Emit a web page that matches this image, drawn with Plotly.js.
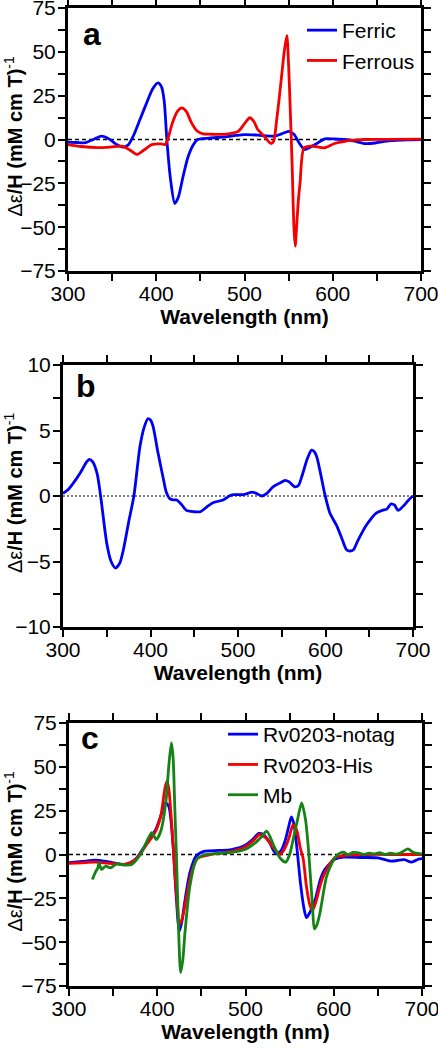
<!DOCTYPE html>
<html>
<head>
<meta charset="utf-8">
<script src="https://cdn.plot.ly/plotly-3.0.1.min.js"></script>
<style>html,body{margin:0;padding:0;background:#fff;}#chart{width:438px;height:1048px;}</style>
</head>
<body>
<div id="chart"></div>
<script>
// ---------- Panel a ----------
const ferricX = [300,310,320,330,338,346,354,362,368,374,382,390,396,402,406,409,412,416,421,425,430,436,442,447,460,478,490,500,515,534,542,550,556,562,568,574,580,591,602,614,625,636,648,659,672,685,700];
const ferricY = [-1.5,-1.7,-1.8,0.3,1.9,0.5,-2.5,-4.4,-3.2,2,12,22,29,32.3,30,22,0,-22,-36.5,-33,-22,-10,-3,0,0.8,1.5,2.3,2.8,2.5,1.9,3.2,4.6,3,-2,-5.7,-4.5,-2.9,0.4,0.3,0,-1,-2.3,-2,-1,-0.5,-0.2,0];
const ferrousX = [300,315,334,348,361,370,378,386,395,405,410,413,418,424,429,434,440,446,452,462,474,485,493,500,506,511,515,522,530,533,536.5,539,542,545,548,550,552,554,556,557.5,559,561,563,567.5,576,591,602,614,625,636,660,700];
const ferrousY = [-2.9,-4,-4.6,-4.3,-3.8,-6,-8.5,-6,-2.9,-2.5,-2.9,0,9,16,18,16,9.5,5,3.4,3,2.9,3.5,4.6,9,12.4,10,5.7,2,-2.3,-1,11.4,22,36,50,59.3,42,15,-15,-50,-60.8,-50,-35,-24.5,-4.7,-3.8,-4.7,-2.3,-1,-0.4,0,0.1,0.2];

// ---------- Panel b ----------
const bX = [300,306,312,320,327,330,334,339,343,350,355,360,365,369,375,381,388,393,397,400,403,408,415,418,422,426,430,436,441,449,457,465,472,483,490,495,506,511,516,521,527,533,540,548,554,558,565,569,573,579,584,587,590,595,599,605,613,619,624,628,632,637,647,658,665,670,675,679,683,690,695,700];
const bY = [0.2,0.5,1,1.8,2.6,2.8,2.6,1.7,0,-3.6,-5,-5.5,-5.1,-4.1,-2,0,3.8,5.3,5.9,5.8,5.3,3.5,1.2,0.3,-0.2,-0.3,-0.3,-0.7,-1.1,-1.2,-1.2,-0.8,-0.5,-0.3,0,0.1,0.1,0.2,0.3,0.2,0,0.2,0.7,1.0,1.2,1.1,0.7,0.8,1.5,2.8,3.5,3.4,3.0,1.5,0.2,-1.3,-2.3,-3.3,-4.1,-4.2,-4.1,-3.4,-2.2,-1.3,-1.1,-1.0,-0.6,-0.7,-1.1,-0.7,-0.3,0];

// ---------- Panel c ----------
const notagX = [300,315,330,345,364,375,387,398,404,409,413,418,421,425,428,431,437,444,454,470,484,499,508,515,520,526,531,535,540,545,549,552,555,559,562,566,569,573,579,585,590,601,611,630,650,665,680,688,697,700];
const notagY = [-4.7,-4,-3.2,-4.2,-5.7,-2.9,5.7,14,22,29.6,27.5,4.6,-20,-43.7,-38,-27.5,-10.4,-1,1.9,2.3,2.8,5.1,8.5,12,11.5,8,3,0.4,2,8,16,21.5,17,0,-15,-30,-36,-33,-25.6,-14,-8.5,-2.8,-1.5,-1.7,-1.9,-3.8,-2.9,-4.4,-2.5,-2.3];
const hisX = [300,315,330,345,364,375,387,398,404,408.8,411,413,416,418,420,423,425,428,431,439,446,461,484,500,510,516,523,530,539,544,549,554,558,562,565.5,569,573,576,580.6,585,590,601,615,640,670,700];
const hisY = [-5.1,-4.7,-4.4,-5,-5.5,-3,5,13,22,38,41.8,38,20,5,-11,-30,-40,-37,-30,-10,-2,0,1.8,4.5,8.5,11.4,9.5,5,0,3,9,17,14,4,-2.8,-18,-29,-32,-25.6,-17,-10.4,-1.9,-0.4,0,0,0];
const mbX = [326.4,330,332.5,334,337,341.6,347,354,362,371,382,393.7,399,404.4,410,413,416,418,419.7,422,424,426.5,429,431.4,437,444.4,455,470,486,500,511,518,524,531.5,539,545.5,550,554,559,563.6,568,571,573,576,578,581,584.5,592,601,606,611,616,622,628,634,640,646,652,658,664,670,676,684,690,697,700];
const mbY = [-14.3,-10,-7.8,-5,-8.5,-6.6,-7.6,-5.3,-6,-5.7,0.9,12.4,8.5,14,31,50,63.6,55,29.5,-5,-40,-67.4,-60,-44.6,-18,-2.9,0,0.6,1.3,3,6.6,10,13.3,5.7,-1.9,-4.4,0,8.5,20,29.5,19.9,5,-8.5,-30,-42.4,-40,-33,-12.3,-1.9,0.5,1.3,0,1.2,1,0,0.8,0.3,1,0,0.7,0.2,1,3.2,1.3,0.5,0.4];

const xTickVals = [300,400,500,600,700];
const panelLabels = ['a','b','c'];
const seriesNames = ['Ferric','Ferrous','Rv0203-notag','Rv0203-His','Mb'];
const yTitle = 'Δε<b>/H (mM cm T)</b><sup>-1</sup>';
const xTitle = 'Wavelength (nm)';

const BLUE = 'rgb(0,0,245)', RED = 'rgb(245,0,0)', GREEN = 'rgb(20,130,20)';
const FONT = 'Liberation Sans, Arial, Helvetica, sans-serif';
const W = 438, H = 1048;

function line(color){ return {color: color, width: 2.8, shape: 'spline', smoothing: 0.7}; }

const traces = [
  {x: ferricX, y: ferricY, name: seriesNames[0], type: 'scatter', mode: 'lines', line: line(BLUE), xaxis: 'x', yaxis: 'y', legend: 'legend'},
  {x: ferrousX, y: ferrousY, name: seriesNames[1], type: 'scatter', mode: 'lines', line: line(RED), xaxis: 'x', yaxis: 'y', legend: 'legend'},
  {x: bX, y: bY, name: 'b', type: 'scatter', mode: 'lines', line: line(BLUE), xaxis: 'x2', yaxis: 'y2', showlegend: false},
  {x: notagX, y: notagY, name: seriesNames[2], type: 'scatter', mode: 'lines', line: line(BLUE), xaxis: 'x3', yaxis: 'y3', legend: 'legend2'},
  {x: hisX, y: hisY, name: seriesNames[3], type: 'scatter', mode: 'lines', line: line(RED), xaxis: 'x3', yaxis: 'y3', legend: 'legend2'},
  {x: mbX, y: mbY, name: seriesNames[4], type: 'scatter', mode: 'lines', line: line(GREEN), xaxis: 'x3', yaxis: 'y3', legend: 'legend2'}
];

function px2x(p){ return p / W; }
function px2y(p){ return 1 - p / H; }

const TICKLEN = 7;
function xAxis(l, r, anchor){
  return {
    domain: [px2x(l), px2x(r)], anchor: anchor, range: [300, 700],
    tickvals: xTickVals, ticks: 'outside', ticklen: TICKLEN, tickwidth: 2, tickcolor: 'black',
    minor: {dtick: 50, tick0: 300, ticks: 'outside', ticklen: TICKLEN, tickwidth: 2, tickcolor: 'black', showgrid: false},
    showline: true, linewidth: 3, linecolor: 'black', mirror: 'allticks',
    showgrid: false, zeroline: false, ticklabeloverflow: 'allow', ticklabelstandoff: -5,
    tickfont: {family: FONT, size: 21, color: 'black'},
    title: {text: xTitle, font: {family: FONT, size: 21, color: 'black', weight: 'bold'}, standoff: 0}
  };
}
function yAxis(t, b, anchor, range, dtick){
  return {
    domain: [px2y(b), px2y(t)], anchor: anchor, range: range,
    tick0: range[0], dtick: dtick, ticks: 'outside', ticklen: TICKLEN, tickwidth: 2, tickcolor: 'black',
    minor: {dtick: dtick/2, tick0: range[0], ticks: 'outside', ticklen: TICKLEN, tickwidth: 2, tickcolor: 'black', showgrid: false},
    showline: true, linewidth: 3, linecolor: 'black', mirror: 'allticks',
    showgrid: false, zeroline: false, ticklabeloverflow: 'allow', ticklabelstandoff: -2,
    tickfont: {family: FONT, size: 21, color: 'black'}
  };
}

const panels = [
  {xl: 68, xr: 421, yt: 8, yb: 271, letterX: 91.5, letterY: 34},
  {xl: 63, xr: 413, yt: 365, yb: 627, letterX: 85.5, letterY: 386},
  {xl: 69, xr: 422, yt: 723, yb: 986, letterX: 90, letterY: 738}
];

const annotations = [];
panels.forEach((p, i) => {
  annotations.push({xref: 'paper', yref: 'paper', x: px2x(p.letterX), y: px2y(p.letterY), xanchor: 'center', yanchor: 'middle',
    text: '<b>' + panelLabels[i] + '</b>', showarrow: false, font: {family: FONT, size: 32, color: 'black'}});
  annotations.push({xref: 'paper', yref: 'paper', x: px2x(13), y: px2y((p.yt + p.yb) / 2 - 3), xanchor: 'center', yanchor: 'middle',
    text: yTitle, textangle: -90, showarrow: false, font: {family: FONT, size: 20, color: 'black'}});
});

const zeroShape = (xa, ya, width, dash) => ({type: 'line', xref: xa + ' domain', x0: 0, x1: 1, yref: ya, y0: 0, y1: 0,
  line: {color: 'black', width: width, dash: dash}, layer: 'below'});

const layout = {
  width: W, height: H, margin: {l: 0, r: 0, t: 0, b: 0},
  paper_bgcolor: 'white', plot_bgcolor: 'white',
  font: {family: FONT, color: 'black'},
  xaxis: xAxis(panels[0].xl, panels[0].xr, 'y'),
  yaxis: yAxis(panels[0].yt, panels[0].yb, 'x', [-75, 75], 25),
  xaxis2: xAxis(panels[1].xl, panels[1].xr, 'y2'),
  yaxis2: yAxis(panels[1].yt, panels[1].yb, 'x2', [-10, 10], 5),
  xaxis3: xAxis(panels[2].xl, panels[2].xr, 'y3'),
  yaxis3: yAxis(panels[2].yt, panels[2].yb, 'x3', [-75, 75], 25),
  showlegend: true,
  legend: {x: px2x(302), y: px2y(10), xanchor: 'left', yanchor: 'top', bgcolor: 'rgba(0,0,0,0)',
    font: {family: FONT, size: 21, color: 'black'}, tracegroupgap: 0, itemwidth: 30},
  legend2: {x: px2x(223), y: px2y(714), xanchor: 'left', yanchor: 'top', bgcolor: 'rgba(0,0,0,0)',
    font: {family: FONT, size: 21, color: 'black'}, tracegroupgap: 0, itemwidth: 30},
  annotations: annotations,
  shapes: [zeroShape('x', 'y', 1.6, '4px,3px'), zeroShape('x2', 'y2', 1, '2px,2px'), zeroShape('x3', 'y3', 1.6, '4px,3px')]
};

Plotly.newPlot('chart', traces, layout, {displayModeBar: false, staticPlot: true});
</script>
</body>
</html>
